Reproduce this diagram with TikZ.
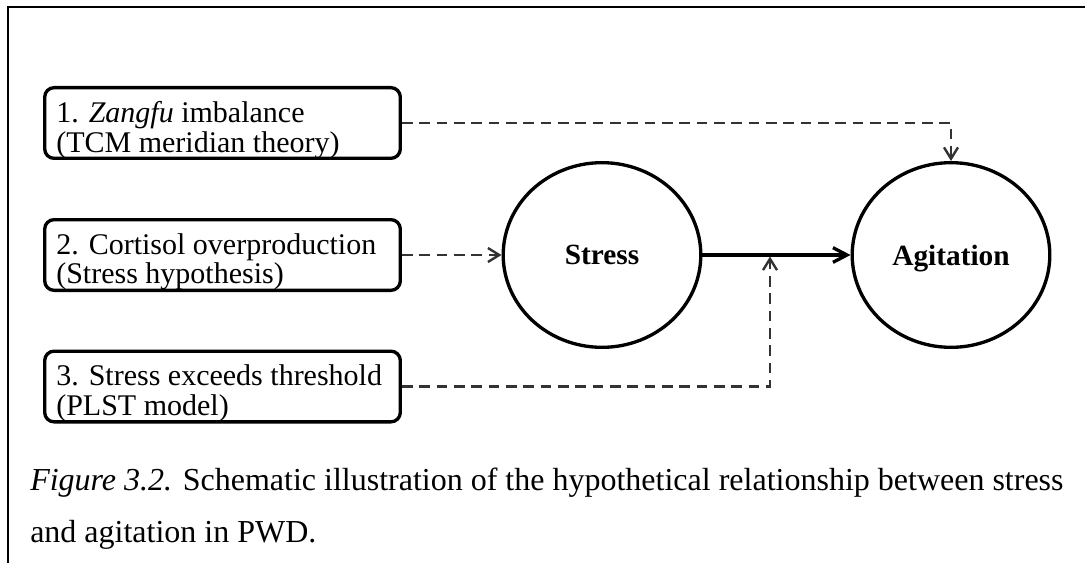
\documentclass[tikz,border=0pt]{standalone}
\usepackage{fontspec}
\setmainfont{Liberation Serif}
\usetikzlibrary{arrows.meta,shapes.geometric,calc}
\begin{document}
\begin{tikzpicture}[x=0.75pt,y=-0.75pt,
  frame/.style={line width=1.6pt, black},
  factor/.style={draw, line width=2.5pt, rounded corners=7pt,
    minimum width=266.7pt, minimum height=53pt, inner sep=0pt},
  factortext/.style={anchor=north west, inner sep=0pt, align=left,
    font=\fontsize{22.5pt}{22.4pt}\selectfont},
  concept/.style={draw, ellipse, line width=2.5pt, minimum width=148.2pt,
    minimum height=138.5pt, inner sep=0pt, text depth=0pt,
    font=\fontsize{22pt}{26pt}\selectfont\bfseries},
  influence/.style={draw=black!80, line width=1.8pt, dash pattern=on 8pt off 5pt,
    -{Straight Barb[length=8.5pt,width=10.5pt]}},
  effect/.style={draw, line width=2.5pt, -{Straight Barb[length=10.5pt,width=11pt]}},
  caption/.style={anchor=north west, inner sep=0pt, align=left,
    font=\fontsize{24pt}{39pt}\selectfont}
]
\useasboundingbox (0,0) rectangle (1085,563);

% page border (top and left edges)
\draw[frame] (8,563) -- (8,7) -- (1085,7);

% candidate explanations
\node[factor] (f1) at (222.5,123) {};
\node[factor] (f2) at (222.5,255) {};
\node[factor] (f3) at (222.5,386.5) {};
\node[factortext] (t1) at ($(f1.north west)+(13,15)$) {1. \textit{Zangfu} imbalance\\(TCM meridian theory)};
\node[factortext] (t2) at ($(f2.north west)+(13,15)$) {2. Cortisol overproduction\\(Stress hypothesis)};
\node[factortext] (t3) at ($(f3.north west)+(13,15)$) {3. Stress exceeds threshold\\(PLST model)};

% core concepts
\node[concept] (stress) at (602,255) {Stress};
\node[concept] (agit) at (951,255) {Agitation};

% main effect and the threshold junction on it
\draw[effect] (stress.east) -- (agit.west);
\coordinate (join) at (770,256.5);

% hypothesised influences
\draw[influence] (f1.east) -| (agit.north);
\draw[influence] (f2.east) -- (stress.west);
\draw[influence] (f3.east) -| (join);

% caption
\node[caption] (cap) at (30,468) {\textit{Figure 3.2.} Schematic illustration of the hypothetical relationship between stress\\and agitation in PWD.};
\end{tikzpicture}
\end{document}
